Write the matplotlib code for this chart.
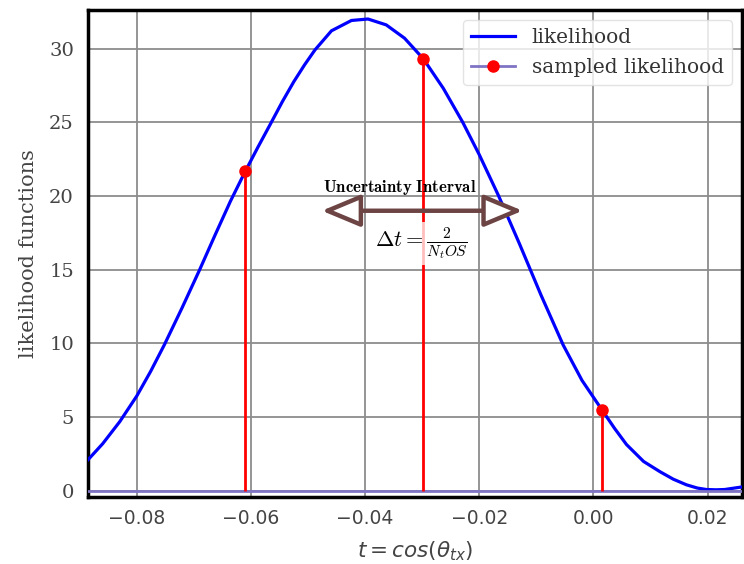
import matplotlib
matplotlib.use("Agg")
import matplotlib.pyplot as plt
from matplotlib.font_manager import FontProperties
from matplotlib.lines import Line2D

# likelihood curve
t_vals = [-0.0886, -0.0860, -0.0830, -0.0800, -0.0776, -0.0752, -0.0721, -0.0690,
          -0.0663, -0.0636, -0.0611, -0.0588, -0.0565, -0.0545, -0.0525, -0.0506,
          -0.0488, -0.0459, -0.0424, -0.0395, -0.0363, -0.0331, -0.0298, -0.0263,
          -0.0229, -0.0200, -0.0166, -0.0130, -0.0092, -0.0053, -0.0020, 0.0015,
          0.0037, 0.0058, 0.0088, 0.0117, 0.0140, 0.0163, 0.0182, 0.0198,
          0.0215, 0.0230, 0.0265]
likelihood = [2.1, 3.2, 4.7, 6.45, 8.1, 9.9, 12.4, 15.0,
              17.35, 19.65, 21.6, 23.3, 24.95, 26.4, 27.75, 28.9,
              29.9, 31.2, 31.9, 32.0, 31.6, 30.7, 29.3, 27.3,
              25.0, 22.8, 20.0, 16.8, 13.3, 9.9, 7.5, 5.5,
              4.25, 3.15, 2.0, 1.3, 0.8, 0.42, 0.2, 0.1,
              0.08, 0.1, 0.3]

# sampled points
t_samples = [-0.0611, -0.0298, 0.0015]
sampled = [21.7, 29.3, 5.5]

plt.rcParams["font.family"] = "DejaVu Serif"
plt.rcParams["mathtext.fontset"] = "cm"

fig = plt.figure(figsize=(7.44, 5.64), dpi=100)
ax = fig.add_axes([0.118, 0.119, 0.879, 0.863])

ax.grid(True, color="#8c8c8c", linewidth=1.3)
ax.set_axisbelow(True)

ax.plot(t_vals, likelihood, color="blue", linewidth=2.3, zorder=3)

base_color = "#7f74c4"
ax.axhline(0, color=base_color, linewidth=2, zorder=3)
ax.vlines(t_samples, 0, sampled, color="red", linewidth=2, zorder=4)
ax.plot(t_samples, sampled, "o", color="red", markersize=8, zorder=5)

ax.set_xlim(-0.0886, 0.026)
ax.set_ylim(-0.4, 32.6)
ax.set_xticks([-0.08, -0.06, -0.04, -0.02, 0.00, 0.02])
ax.set_yticks([0, 5, 10, 15, 20, 25, 30])
ax.tick_params(axis="y", length=0, labelsize=14, labelcolor="#444444", pad=10)
ax.tick_params(axis="x", length=0, labelsize=13.5, labelcolor="#444444", pad=9)
for lbl in ax.get_xticklabels():
    lbl.set_family("DejaVu Sans")
for s in ax.spines.values():
    s.set_linewidth(2.5)
    s.set_color("black")

ax.set_ylabel("likelihood functions", fontsize=15, color="#444444", labelpad=8)
xfp = FontProperties(family="DejaVu Sans", size=15.5)
xfp.set_math_fontfamily("dejavusans")
ax.set_xlabel(r"$t = cos(\theta_{tx})$", color="#444444", labelpad=8,
              fontproperties=xfp)

# uncertainty interval annotation
ax.annotate("", xy=(-0.0476, 19.0), xytext=(-0.0124, 19.0),
            arrowprops=dict(arrowstyle="<|-|>,head_length=1.2,head_width=0.5",
                            fc="white", ec="#6d4444", lw=3.2,
                            mutation_scale=20, shrinkA=0, shrinkB=0), zorder=6)
ax.text(-0.0340, 20.55, r"$\mathbf{Uncertainty\ Interval}$", ha="center", va="center",
        fontsize=12, color="black", zorder=6)
ax.text(-0.0302, 16.75, r"$\Delta t = \frac{2}{N_t OS}$", ha="center", va="center",
        fontsize=16, color="black", zorder=6,
        bbox=dict(boxstyle="square,pad=0.15", fc="white", ec="none", alpha=0.75))

handles = [Line2D([], [], color="blue", linewidth=2.3),
           Line2D([], [], color=base_color, linewidth=2, marker="o",
                  markerfacecolor="red", markeredgecolor="red", markersize=8)]
leg = ax.legend(handles, ["likelihood", "sampled likelihood"], loc="upper right",
                fontsize=14.5, framealpha=0.8, edgecolor="#dddddd", fancybox=True,
                borderaxespad=0.5, handlelength=2.2, labelspacing=0.55,
                borderpad=0.4)
for txt in leg.get_texts():
    txt.set_color("#333333")

fig.savefig("out.png", dpi=100)
